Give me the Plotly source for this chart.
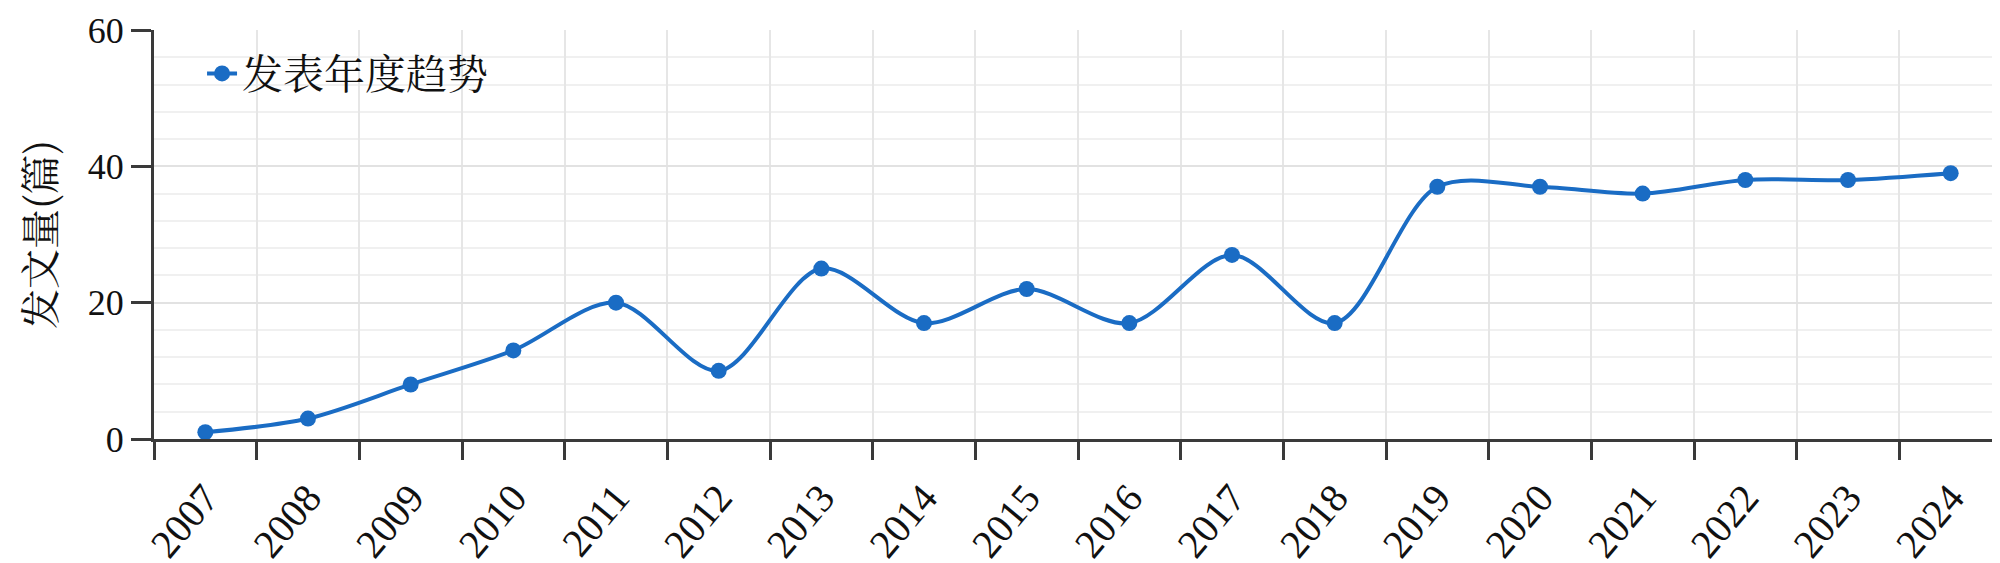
import plotly.graph_objects as go

# 发文量 per year
years = ["2007", "2008", "2009", "2010", "2011", "2012", "2013", "2014", "2015",
         "2016", "2017", "2018", "2019", "2020", "2021", "2022", "2023", "2024"]
counts = [1, 3, 8, 13, 20, 10, 25, 17, 22, 17, 27, 17, 37, 37, 36, 38, 38, 39]
y_ticks = [0, 20, 40, 60]

BLUE = "#1a6cc4"
AXIS = "#3a3a3a"
SERIF = "Liberation Serif, Times New Roman, serif"
CJK = "Noto Serif CJK SC, Noto Sans CJK SC, sans-serif"

fig = go.Figure()
fig.add_trace(go.Scatter(
    x=years, y=counts, mode="lines+markers", name="发表年度趋势",
    line=dict(color=BLUE, width=4, shape="spline", smoothing=0.9),
    marker=dict(color=BLUE, size=16),
))

fig.update_layout(
    width=2000, height=563,
    margin=dict(l=146, r=6, t=22, b=132),
    plot_bgcolor="white", paper_bgcolor="white",
    showlegend=True,
    legend=dict(x=0.026, y=0.975, xanchor="left", yanchor="top",
                bgcolor="rgba(0,0,0,0)", itemwidth=30,
                font=dict(family=CJK, size=41, color="#111")),
)

fig.update_xaxes(
    type="category", tickson="boundaries", range=[-0.5, len(years) - 0.5],
    automargin=False,
    showline=True, linecolor=AXIS, linewidth=3,
    ticks="outside", ticklen=18, tickwidth=3, tickcolor=AXIS,
    showgrid=True, gridcolor="#e6e6e6", gridwidth=2,
    tickangle=-50, ticklabelstandoff=16,
    tickfont=dict(family=SERIF, size=40, color="#111"),
)

fig.update_yaxes(
    range=[0, 60], tickvals=y_ticks, ticklabeloverflow="allow",
    automargin=False,
    showline=True, linecolor=AXIS, linewidth=3,
    ticks="outside", ticklen=20, tickwidth=3, tickcolor=AXIS,
    showgrid=True, gridcolor="#e2e2e2", gridwidth=2,
    minor=dict(dtick=4, showgrid=True, gridcolor="#f0f0f0", gridwidth=2, ticks=""),
    zeroline=False,
    tickfont=dict(family=SERIF, size=36, color="#111"),
    title=dict(text="发文量(篇)", font=dict(family=CJK, size=40, color="#111"), standoff=20),
)

fig.write_html("out.html")
